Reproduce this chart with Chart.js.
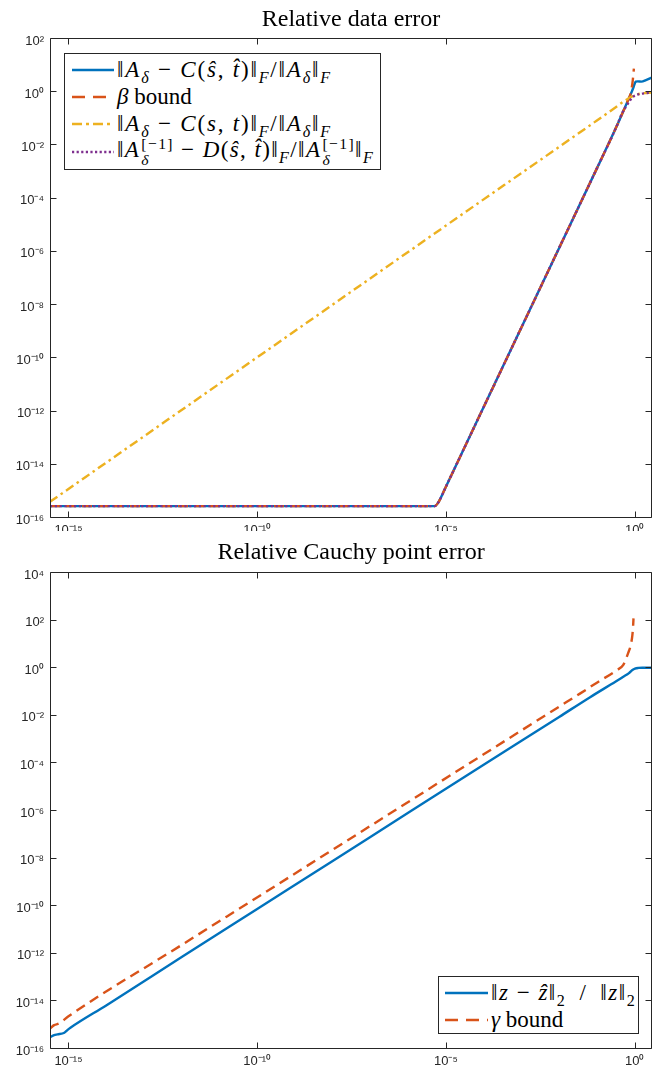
<!DOCTYPE html>
<html>
<head>
<meta charset="utf-8">
<script src="https://cdn.jsdelivr.net/npm/chart.js@4.4.0/dist/chart.umd.min.js"></script>
<style>
body { margin: 0; background: #fff; }
#wrap { position: relative; width: 653px; height: 1073px; overflow: hidden; }
canvas { position: absolute; left: 0; }
#c1 { top: 0; }
#c2 { top: 531px; }
.leg { position: absolute; background: #fff; border: 1px solid #262626; box-sizing: border-box;
       font-family: "Liberation Serif", "DejaVu Serif", serif; font-size: 23px; color: #000; }
.leg i { font-family: "Liberation Serif", "DejaVu Serif", serif; font-style: italic; }
.row { position: absolute; height: 28px; display: flex; align-items: center; white-space: nowrap; }
.row svg { flex: none; margin-right: 3px; }
.m { letter-spacing: 1.8px; }
.m4 { letter-spacing: 1.4px; }
.m2 { letter-spacing: 1.5px; }
sub { font-size: 0.7em; vertical-align: -0.35em; line-height: 0; }
.ss { display: inline-flex; flex-direction: column; font-size: 0.68em; line-height: 1.0; vertical-align: middle; margin-left: 1px; }
</style>
</head>
<body>
<div id="wrap">
  <canvas id="c1" width="653" height="531"></canvas>
  <canvas id="c2" width="653" height="542"></canvas>

  <div class="leg" style="left:64px; top:53px; width:317px; height:117px;">
    <div class="row" style="left:7px; top:2px;">
      <svg width="42" height="10"><line x1="0" y1="5" x2="42" y2="5" stroke="#0072BD" stroke-width="2.6"/></svg>
      <span class="m">‖<i>A</i><sub><i>δ</i></sub> − <i>C</i>(<i>ŝ</i>, <i>t̂</i>)‖<sub><i>F</i></sub>/‖<i>A</i><sub><i>δ</i></sub>‖<sub><i>F</i></sub></span>
    </div>
    <div class="row" style="left:7px; top:29px;">
      <svg width="42" height="10"><line x1="0" y1="5" x2="42" y2="5" stroke="#D95319" stroke-width="2.6" stroke-dasharray="13 8"/></svg>
      <span><i>β</i> bound</span>
    </div>
    <div class="row" style="left:7px; top:56px;">
      <svg width="42" height="10"><line x1="0" y1="5" x2="42" y2="5" stroke="#EDB120" stroke-width="2.6" stroke-dasharray="10 4 3 4"/></svg>
      <span class="m">‖<i>A</i><sub><i>δ</i></sub> − <i>C</i>(<i>s</i>, <i>t</i>)‖<sub><i>F</i></sub>/‖<i>A</i><sub><i>δ</i></sub>‖<sub><i>F</i></sub></span>
    </div>
    <div class="row" style="left:7px; top:84px;">
      <svg width="42" height="10"><line x1="0" y1="5" x2="42" y2="5" stroke="#7E2F8E" stroke-width="2.6" stroke-dasharray="2.2 2.4"/></svg>
      <span class="m4">‖<i>A</i><span class="ss"><span>[−1]</span><span><i>δ</i></span></span> − <i>D</i>(<i>ŝ</i>, <i>t̂</i>)‖<sub><i>F</i></sub>/‖<i>A</i><span class="ss"><span>[−1]</span><span><i>δ</i></span></span>‖<sub><i>F</i></sub></span>
    </div>
  </div>

  <div class="leg" style="left:438px; top:976px; width:201px; height:58px;">
    <div class="row" style="left:6px; top:2px;">
      <svg width="43" height="10"><line x1="0" y1="5" x2="43" y2="5" stroke="#0072BD" stroke-width="2.6"/></svg>
      <span class="m2">‖<i>z</i> − <i>ẑ</i>‖<sub>2</sub>&ensp;/&ensp;‖<i>z</i>‖<sub>2</sub></span>
    </div>
    <div class="row" style="left:6px; top:29px;">
      <svg width="43" height="10"><line x1="0" y1="5" x2="43" y2="5" stroke="#D95319" stroke-width="2.6" stroke-dasharray="13 8"/></svg>
      <span><i>γ</i> bound</span>
    </div>
  </div>
</div>

<script>
// axis limits and ticks (log axes)
var xMin = 3.24e-16, xMax = 2.884;
var xTicks = [1e-15, 1e-10, 1e-5, 1e0];
var yTicksTop = [1e2, 1e0, 1e-2, 1e-4, 1e-6, 1e-8, 1e-10, 1e-12, 1e-14, 1e-16];
var yTicksBottom = [1e4, 1e2, 1e0, 1e-2, 1e-4, 1e-6, 1e-8, 1e-10, 1e-12, 1e-14, 1e-16];

// top plot: relative data error
var topBlueX = [3.24e-16, 1e-14, 1e-12, 1e-10, 1e-8, 5.01e-6, 6.31e-6, 1e-5, 1e-4, 1e-3, 1e-2, 1e-1, 0.331, 0.631, 0.794, 0.933, 1.0, 1.072, 1.202, 1.514, 1.995, 2.884];
var topBlueY = [2.57e-16, 2.57e-16, 2.57e-16, 2.57e-16, 2.57e-16, 2.57e-16, 3.55e-16, 1.38e-15, 1.35e-12, 1.32e-9, 1.29e-6, 1.26e-3, 0.0468, 0.380, 0.794, 1.413, 1.905, 2.291, 2.344, 2.291, 2.630, 3.311];

var topBetaX = [3.24e-16, 1e-14, 1e-12, 1e-10, 1e-8, 5.01e-6, 6.31e-6, 1e-5, 1e-4, 1e-3, 1e-2, 1e-1, 0.331, 0.631, 0.759, 0.832, 0.891, 0.955];
var topBetaY = [2.57e-16, 2.57e-16, 2.57e-16, 2.57e-16, 2.57e-16, 2.57e-16, 3.55e-16, 1.38e-15, 1.35e-12, 1.32e-9, 1.29e-6, 1.26e-3, 0.0468, 0.380, 0.708, 1.259, 2.512, 7.08];

var topYellowX = [3.24e-16, 1e-10, 1e-5, 0.1, 0.316, 0.501, 0.638, 0.794, 1.084, 1.549, 2.884];
var topYellowY = [3.72e-16, 1e-10, 8.91e-6, 0.0794, 0.251, 0.407, 0.501, 0.603, 0.724, 0.832, 0.891];

var topPurpleX = [3.24e-16, 1e-14, 1e-12, 1e-10, 1e-8, 5.01e-6, 6.31e-6, 1e-5, 1e-4, 1e-3, 1e-2, 1e-1, 0.331, 0.457, 0.676, 0.891, 1.122, 1.413, 2.089, 2.884];
var topPurpleY = [2.57e-16, 2.57e-16, 2.57e-16, 2.57e-16, 2.57e-16, 2.57e-16, 3.55e-16, 1.38e-15, 1.35e-12, 1.32e-9, 1.29e-6, 1.26e-3, 0.0468, 0.141, 0.355, 0.603, 0.724, 0.794, 0.851, 0.891];

// bottom plot: relative Cauchy point error
var botBlueX = [3.24e-16, 4.17e-16, 5.13e-16, 7.76e-16, 9.33e-16, 1.15e-15, 1e-14, 1e-12, 1e-10, 1e-8, 1e-6, 1e-4, 1e-2, 0.0661, 0.316, 0.501, 0.708, 0.871, 1.023, 1.259, 1.585, 2.884];
var botBlueY = [2.82e-16, 3.47e-16, 3.72e-16, 4.37e-16, 5.62e-16, 7.24e-16, 6.17e-15, 6.61e-13, 6.92e-11, 7.24e-9, 7.59e-7, 7.94e-5, 8.13e-3, 0.0550, 0.251, 0.398, 0.562, 0.759, 0.871, 0.933, 0.955, 0.955];

var botGammaX = [3.24e-16, 4.17e-16, 5.62e-16, 1e-15, 1e-12, 1e-8, 1e-4, 1e-2, 0.0355, 0.1, 0.331, 0.501, 0.676, 0.794, 0.871, 0.912, 0.933];
var botGammaY = [6.61e-16, 9.12e-16, 1.07e-15, 2.14e-15, 2.14e-12, 2.14e-8, 2.19e-4, 0.0219, 0.0776, 0.224, 0.741, 1.259, 3.98, 8.91, 22.4, 56.2, 112];

var supMap = {'-': '⁻', '0': '⁰', '1': '¹', '2': '²', '3': '³', '4': '⁴', '5': '⁵', '6': '⁶', '7': '⁷', '8': '⁸', '9': '⁹'};
function powLabel(v) {
    var e = String(Math.round(Math.log10(v)));
    var s = '';
    for (var i = 0; i < e.length; i++) s += supMap[e[i]];
    return '10' + s;
}

function pts(xs, ys) {
    var out = [];
    for (var i = 0; i < xs.length; i++) out.push({x: xs[i], y: ys[i]});
    return out;
}

function serie(xs, ys, color, dash, order) {
    return {
        data: pts(xs, ys),
        borderColor: color,
        borderWidth: 2.4,
        borderDash: dash,
        pointRadius: 0,
        fill: false,
        cubicInterpolationMode: 'monotone',
        order: order
    };
}

// box with inward ticks on all four sides
var boxTicks = {
    id: 'boxTicks',
    afterDraw: function(chart) {
        var ctx = chart.ctx, a = chart.chartArea;
        var L = Math.round(a.left) + 0.5, R = Math.round(a.right) - 0.5;
        var T = Math.round(a.top) + 0.5, B = Math.round(a.bottom) + 0.5;
        ctx.save();
        ctx.strokeStyle = '#262626';
        ctx.lineWidth = 1;
        ctx.beginPath();
        ctx.rect(L, T, R - L, B - T);
        chart.scales.x.ticks.forEach(function(t) {
            var px = Math.round(chart.scales.x.getPixelForValue(t.value)) + 0.5;
            ctx.moveTo(px, B); ctx.lineTo(px, B - 6);
            ctx.moveTo(px, T); ctx.lineTo(px, T + 6);
        });
        chart.scales.y.ticks.forEach(function(t) {
            var py = Math.round(chart.scales.y.getPixelForValue(t.value)) + 0.5;
            ctx.moveTo(L, py); ctx.lineTo(L + 6, py);
            ctx.moveTo(R, py); ctx.lineTo(R - 6, py);
        });
        ctx.stroke();
        ctx.restore();
    }
};

function grafico(id, titolo, datasets, yTicks, xAxisH, xPad, titlePad) {
    return new Chart(document.getElementById(id), {
        type: 'line',
        data: { datasets: datasets },
        plugins: [boxTicks],
        options: {
            responsive: false,
            animation: false,
            events: [],
            layout: { padding: { left: 0, right: 1, top: 0, bottom: 0 } },
            plugins: {
                legend: { display: false },
                tooltip: { enabled: false },
                title: {
                    display: true,
                    text: titolo,
                    fullSize: false,
                    color: '#000',
                    font: { family: 'Liberation Serif', size: 24, weight: 'normal', lineHeight: 1.2 },
                    padding: titlePad
                }
            },
            scales: {
                x: {
                    type: 'logarithmic',
                    min: xMin,
                    max: xMax,
                    grid: { display: false, drawTicks: false },
                    border: { display: false },
                    afterBuildTicks: function(scale) {
                        scale.ticks = xTicks.map(function(v) { return {value: v}; });
                    },
                    afterFit: function(scale) { scale.height = xAxisH; },
                    ticks: {
                        autoSkip: false,
                        maxRotation: 0,
                        padding: xPad,
                        color: '#262626',
                        font: { family: 'Liberation Sans', size: 13 },
                        callback: function(v) { return powLabel(v); }
                    }
                },
                y: {
                    type: 'logarithmic',
                    min: yTicks[yTicks.length - 1],
                    max: yTicks[0],
                    grid: { display: false, drawTicks: false },
                    border: { display: false },
                    afterBuildTicks: function(scale) {
                        scale.ticks = yTicks.map(function(v) { return {value: v}; });
                    },
                    afterFit: function(scale) { scale.width = 50; },
                    ticks: {
                        autoSkip: false,
                        padding: 6,
                        labelOffset: 3,
                        color: '#262626',
                        font: { family: 'Liberation Sans', size: 13 },
                        callback: function(v) { return powLabel(v); }
                    }
                }
            }
        }
    });
}

grafico('c1', 'Relative data error', [
    serie(topBlueX, topBlueY, '#0072BD', [], 3),
    serie(topBetaX, topBetaY, '#D95319', [10, 6], 2),
    serie(topYellowX, topYellowY, '#EDB120', [9, 4, 2.5, 4], 1),
    serie(topPurpleX, topPurpleY, '#7E2F8E', [2.2, 2.6], 0)
], yTicksTop, 14, 6, { top: 5, bottom: 4.2 });

grafico('c2', 'Relative Cauchy point error', [
    serie(botBlueX, botBlueY, '#0072BD', [], 1),
    serie(botGammaX, botGammaY, '#D95319', [10, 6], 0)
], yTicksBottom, 25, 6, { top: 7, bottom: 5.2 });
</script>
</body>
</html>
